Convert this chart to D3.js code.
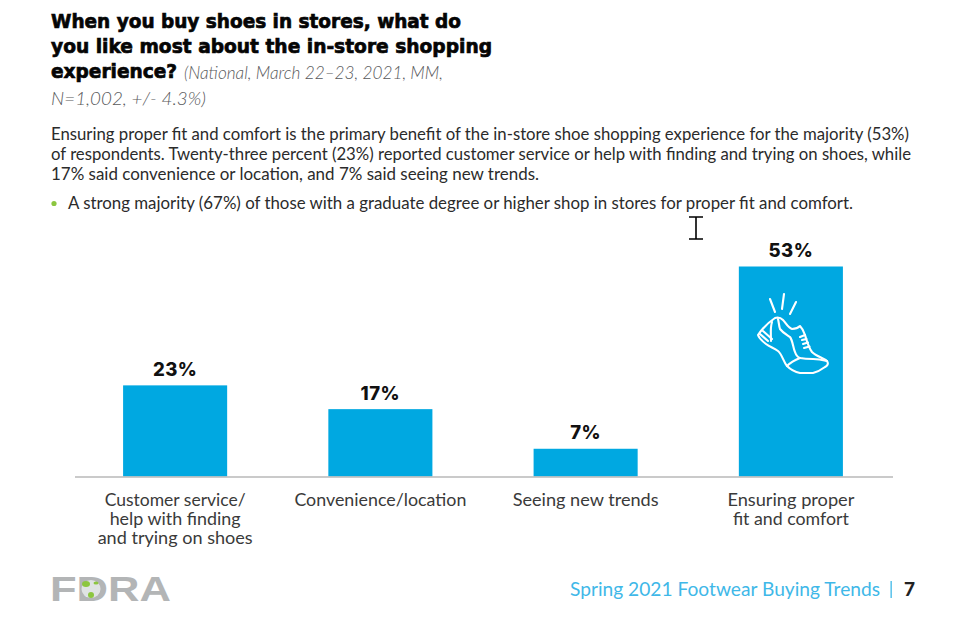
<!DOCTYPE html>
<html><head><meta charset="utf-8">
<script src="https://cdnjs.cloudflare.com/ajax/libs/d3/7.8.5/d3.min.js"></script>
<style>html,body{margin:0;padding:0;background:#fff}svg{display:block}text{white-space:pre}</style>
</head><body><svg id="c" width="961" height="635"></svg>
<script>
const categories=["Customer service/\nhelp with finding\nand trying on shoes","Convenience/location","Seeing new trends","Ensuring proper\nfit and comfort"];
const values=[23,17,7,53];
const labelWidths=[[141,131,155],[172],[146],[127,116]];
const titleLines=[["When you buy shoes in stores, what do",51,27.5,410],["you like most about the in-store shopping",51,52.5,441],["experience?",51,78,126]];
const subtitleLines=[["(National, March 22–23, 2021, MM,",184,79,259],["N=1,002, +/- 4.3%)",51,104.5,155]];
const bodyLines=[["Ensuring proper fit and comfort is the primary benefit of the in-store shoe shopping experience for the majority (53%)",51,139.5,858],["of respondents. Twenty-three percent (23%) reported customer service or help with finding and trying on shoes, while",51,159.5,860],["17% said convenience or location, and 7% said seeing new trends.",51,179.5,488]];
const bullet=["A strong majority (67%) of those with a graduate degree or higher shop in stores for proper fit and comfort.",68,208.5,785];

const svg=d3.select("#c");
const sans="Lato, 'Open Sans', sans-serif";
function put(a,o){const t=svg.append("text").attr("x",a[1]).attr("y",a[2]).attr("textLength",a[3]).attr("lengthAdjust","spacingAndGlyphs").text(a[0]);
 t.attr("font-family",o.f).attr("font-size",o.s).attr("fill",o.c).attr("font-weight",o.w||400).attr("font-style",o.i||"normal");
 if(o.sw)t.attr("stroke",o.c).attr("stroke-width",o.sw);return t;}
titleLines.forEach(a=>put(a,{f:"'DejaVu Sans'",s:19.5,c:"#050505",w:700,sw:.7}));
subtitleLines.forEach(a=>put(a,{f:sans,s:18,c:"#58595b",i:"italic",w:300}));
bodyLines.forEach(a=>put(a,{f:sans,s:16.4,c:"#2b2b2b"}));
put(bullet,{f:sans,s:16.4,c:"#2b2b2b"});
svg.append("circle").attr("cx",54).attr("cy",203.5).attr("r",2.6).attr("fill","#8cc63f");

const x=d3.scaleBand().domain(categories).range([72.5,893.5]).paddingInner(.493).paddingOuter(.2465);
const y=d3.scaleLinear().domain([0,53]).range([476.5,266.5]);
svg.selectAll("rect.bar").data(values).join("rect").attr("class","bar")
 .attr("x",(d,i)=>x(categories[i])).attr("width",x.bandwidth()).attr("y",d=>y(d)).attr("height",d=>y(0)-y(d)).attr("fill","#00a8e1");
const ax=svg.append("g").attr("transform","translate(0,477)").call(d3.axisBottom(x).tickSize(0).tickFormat(""));
ax.select(".domain").attr("stroke","#b9b9b9").attr("stroke-width",1.6).attr("d","M75,0H893");
svg.selectAll("text.val").data(values).join("text").attr("class","val")
 .attr("x",(d,i)=>x(categories[i])+x.bandwidth()/2).attr("y",d=>y(d)-9.5).attr("text-anchor","middle")
 .attr("font-family","Inter, 'Open Sans', sans-serif").attr("font-weight",800).attr("font-size",18.5).attr("letter-spacing",.5).attr("fill","#111").text(d=>d+"%");
categories.forEach((c,i)=>{c.split("\n").forEach((l,j)=>{
 svg.append("text").attr("x",x(c)+x.bandwidth()/2).attr("y",506+j*19).attr("text-anchor","middle")
  .attr("textLength",labelWidths[i][j]).attr("lengthAdjust","spacingAndGlyphs")
  .attr("font-family",sans).attr("font-size",17.5).attr("fill","#3a3a3a").text(l);});});

// shoe icon
const shoe=svg.append("g").attr("fill","none").attr("stroke","#fff").attr("stroke-width",2.1).attr("stroke-linecap","round").attr("stroke-linejoin","round");
["M770,299L775,312","M784,294L782,309","M796,302L790,314",
 "M758,335C762,329 769,322 775,318C778,317 781,318 783,320C786,323 788,328 792,329C795,329 798,328 800,326C802,328 804,332 805,335C807,342 809,348 812,352C816,356 823,358 827,361C829,364 827,366 825,367C821,370 817,372 813,373L800,373C795,372 790,369 787,366C783,361 782,354 778,351C774,348 770,347 766,344C762,341 759,338 758,335Z",
 "M778,319C779,323 779,326 780,329C783,333 787,335 790,337C793,341 793,348 795,352C796,355 797,357 800,358C805,359 810,359 813,359C818,359 823,360 827,361",
 "M772,322C770,328 771,334 771,341","M787,366C791,362 795,360 800,358",
 "M763,331L772,339","M760,334L768,341",
 "M800,337L805,335","M802,340L806.5,339","M803,344L808,342.5","M804,348L809.5,346.5"].forEach(d=>shoe.append("path").attr("d",d));

// text cursor
svg.append("path").attr("d","M689,217H703M689,239H703M696,217V239").attr("stroke","#000").attr("stroke-width",1.6).attr("fill","none");

// footer
svg.append("text").attr("x",50).attr("y",601).attr("textLength",121).attr("lengthAdjust","spacingAndGlyphs").attr("font-family","'Liberation Sans'").attr("font-weight",700).attr("font-size",35).attr("fill","#b3b5b6").text("FDRA");
svg.append("ellipse").attr("cx",91).attr("cy",589).attr("rx",9.5).attr("ry",9).attr("fill","#dfe3e3");
[[86,584,4,3],[91,595,3,3],[96,583,2.5,1.6]].forEach(p=>svg.append("ellipse").attr("cx",p[0]).attr("cy",p[1]).attr("rx",p[2]).attr("ry",p[3]).attr("fill","#8cc63f"));
svg.append("text").attr("x",570).attr("y",596).attr("textLength",310).attr("lengthAdjust","spacingAndGlyphs").attr("font-family",sans).attr("font-size",19.5).attr("fill","#3fb8e8").text("Spring 2021 Footwear Buying Trends");
svg.append("rect").attr("x",890.5).attr("y",581).attr("width",1.3).attr("height",17).attr("fill","#3fb8e8");
svg.append("text").attr("x",904).attr("y",596).attr("font-family",sans).attr("font-weight",900).attr("font-size",19).attr("fill","#222").text("7");
</script></body></html>
